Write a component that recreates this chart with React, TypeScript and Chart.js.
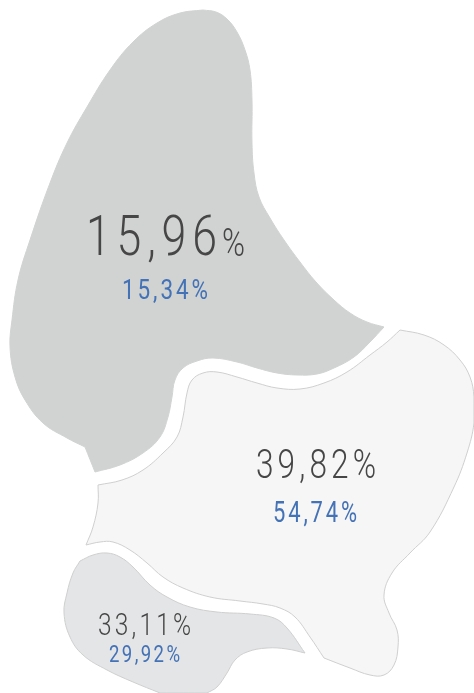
import React, { useEffect, useRef } from "react";
import { Chart, registerables } from "chart.js";

Chart.register(...registerables);

const upperOutline = [
  [203,10],[216,12],[227,19],[237,32],[245,50],[250,70],[252,100],[252,143],[254,173],[259,197],[270,218],[284,240],[300,262],[316,282],[334,300],[350,313],[367,322],[384,327],[384,327],
  [370,342],[354,357],[334,368],[317,374],[297,375],[277,373],[257,368],[237,362],[213,358],[197,361],[183,368],[175,380],[172,397],[168,417],[160,437],[143,453],[120,465],[95,472],[95,472],
  [85,447],[85,447],[67,438],[43,423],[25,400],[15,377],[10,347],[12,320],[18,280],[30,240],[50,183],[67,143],[87,107],[110,70],[133,42],[157,23],[180,13],[203,10],
];
const middleOutline = [
  [400,330],[400,330],[424,335],[444,345],[460,360],[470,377],[474,397],[474,423],[467,453],[454,487],[430,532],[410,553],[392,573],[384,595],[389,613],[397,630],[398,647],[394,665],[384,675],[370,675],[350,668],[324,658],[324,658],
  [310,637],[295,617],[280,608],[263,604],[240,601],[210,597],[183,588],[163,577],[147,563],[130,550],[113,542],[100,542],[86,545],[86,545],
  [93,527],[98,503],[98,485],[98,485],[122,480],[143,470],[163,453],[177,437],[183,417],[187,393],[192,380],[203,373],[217,372],[237,377],[257,383],[277,388],[300,389],[324,383],[347,372],[370,355],[387,342],[400,330],
];
const lowerOutline = [
  [80,561],[80,561],[93,555],[107,553],[120,557],[133,567],[150,585],[167,597],[190,607],[217,612],[250,614],[274,618],[287,628],[305,653],[305,653],
  [287,649],[267,648],[247,652],[235,660],[227,673],[217,687],[207,693],[207,693],[160,693],[160,693],[133,682],[107,670],[83,655],[70,637],[64,613],[67,593],[73,573],[80,561],
];

const shapeColors = ["#d1d3d2", "#f6f6f6", "#e4e5e7"];
const shapeBorders = ["#d1d3d2", "#cfcfcf", "#cfcfcf"];
const outlines = [upperOutline, middleOutline, lowerOutline];

const primaryLabels = ["15,96", "39,82%", "33,11%"];
const secondaryLabels = ["15,34%", "54,74%", "29,92%"];
const unitLabel = "%";

const FONT = "Roboto";
const DARK = "#464646";
const BLUE = "#4472b6";

// [text, left, right, baseline, font size, colour, weight]
const textRows: [string, number, number, number, number, string, number][] = [
  [primaryLabels[0], 86, 217, 255, 56, DARK, 300],
  [unitLabel, 222, 245, 256, 39, DARK, 300],
  [secondaryLabels[0], 122, 208, 299, 28, BLUE, 400],
  [primaryLabels[1], 256, 376, 478, 41, DARK, 300],
  [secondaryLabels[1], 273, 357, 522, 29, BLUE, 400],
  [primaryLabels[2], 98, 191, 635, 31, DARK, 300],
  [secondaryLabels[2], 109, 180, 662, 24, BLUE, 400],
];

const textPlugin = {
  id: "regionText",
  afterDatasetsDraw(chart: any) {
    const { ctx, scales } = chart;
    textRows.forEach(([text, left, right, baseline, size, color, weight]) => {
      const x0 = scales.x.getPixelForValue(left);
      const x1 = scales.x.getPixelForValue(right);
      const y = scales.y.getPixelForValue(baseline);
      const spacing = size * 0.13;
      ctx.save();
      ctx.font = `${weight} ${size}px ${FONT}`;
      ctx.letterSpacing = `${spacing}px`;
      ctx.fillStyle = color;
      ctx.textAlign = "left";
      ctx.textBaseline = "alphabetic";
      const w = ctx.measureText(text).width - spacing;
      ctx.translate(x0, y);
      ctx.scale((x1 - x0) / w, 1);
      ctx.fillText(text, 0, 0);
      ctx.restore();
    });
  },
};

export default function App() {
  const ref = useRef<HTMLCanvasElement>(null);
  useEffect(() => {
    const chart = new Chart(ref.current!, {
      type: "scatter",
      data: {
        datasets: outlines.map((points, i) => ({
          label: secondaryLabels[i],
          data: points.map(([x, y]) => ({ x, y })),
          showLine: true,
          fill: "shape",
          tension: 0.4,
          backgroundColor: shapeColors[i],
          borderColor: shapeBorders[i],
          borderWidth: 1,
          pointRadius: 0,
          pointHoverRadius: 0,
        })),
      } as any,
      options: {
        responsive: false,
        animation: false,
        layout: { padding: 0 },
        plugins: { legend: { display: false }, tooltip: { enabled: false }, title: { display: false } },
        scales: {
          x: { type: "linear", min: 0, max: 474, display: false },
          y: { type: "linear", min: 0, max: 693, reverse: true, display: false },
        },
      },
      plugins: [textPlugin],
    } as any);
    return () => chart.destroy();
  }, []);
  return (
    <div style={{ position: "absolute", left: 0, top: 0, width: 474, height: 693 }}>
      <canvas ref={ref} width={474} height={693} style={{ display: "block" }} />
    </div>
  );
}
